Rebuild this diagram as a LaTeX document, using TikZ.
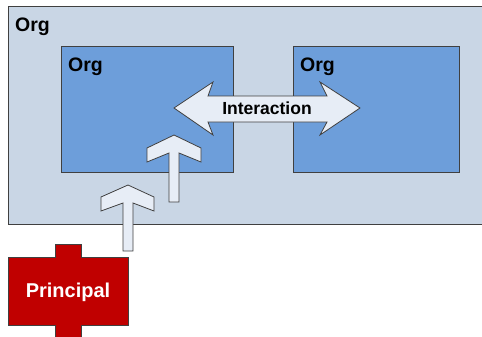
\documentclass[tikz,border=0pt]{standalone}
\usepackage{fontspec}
\setmainfont{Liberation Sans}
\usetikzlibrary{positioning}
\definecolor{orgouter}{HTML}{C9D6E5}
\definecolor{orginner}{HTML}{6D9EDA}
\definecolor{arrowfill}{HTML}{E7EDF6}
\definecolor{principalred}{HTML}{C00000}
\begin{document}
\begin{tikzpicture}[x=1pt, y=-1pt,
  orgbox/.style={draw=black!75, line width=0.8pt, anchor=north west, inner sep=0pt},
  orglabel/.style={anchor=base west, inner sep=0pt, font=\fontsize{19.5}{22}\selectfont\bfseries},
  blockarrow/.style={draw=black!75, fill=arrowfill, line width=0.8pt, line join=miter}]
\useasboundingbox (0,0) rectangle (482,337);

\node[orgbox, fill=orgouter, minimum width=490, minimum height=218] (orgmain) at (8,6) {};
\node[orglabel] (orgmainlabel) at (15,31.5) {Org};

\node[orgbox, fill=orginner, minimum width=172, minimum height=126] (orgleft) at (61,46) {};
\node[orglabel] (orgleftlabel) at (68,71.5) {Org};
\node[orgbox, fill=orginner, minimum width=166, minimum height=126] (orgright) at (293,46) {};
\node[orglabel] (orgrightlabel) at (300,71.5) {Org};

\draw[blockarrow] (174,108) -- (213,82) -- (208,96) -- (327,96) -- (320,82) -- (360,108)
  -- (320,135) -- (327,122) -- (208,122) -- (213,135) -- cycle;
\node[anchor=base, inner sep=0pt, font=\fontsize{17.5}{20}\selectfont\bfseries] (interaction) at (267,114) {Interaction};

\draw[blockarrow] (174,135) -- (201,148) -- (201,162) -- (179,153) -- (179,202) -- (169,202)
  -- (169,153) -- (147,162) -- (147,148) -- cycle;
\draw[blockarrow] (128,185) -- (154,197) -- (154,211) -- (133,203) -- (133,251) -- (123,251)
  -- (123,203) -- (101,211) -- (101,197) -- cycle;

\draw[draw=black!75, line width=0.8pt, fill=principalred] (55,244) -- (81,244) -- (81,257) -- (128,257)
  -- (128,325) -- (81,325) -- (81,342) -- (55,342) -- (55,325) -- (8,325) -- (8,257) -- (55,257) -- cycle;
\node[anchor=base, inner sep=0pt, text=white, font=\fontsize{20}{24}\selectfont\bfseries] (principal) at (68,297) {Principal};
\end{tikzpicture}
\end{document}
